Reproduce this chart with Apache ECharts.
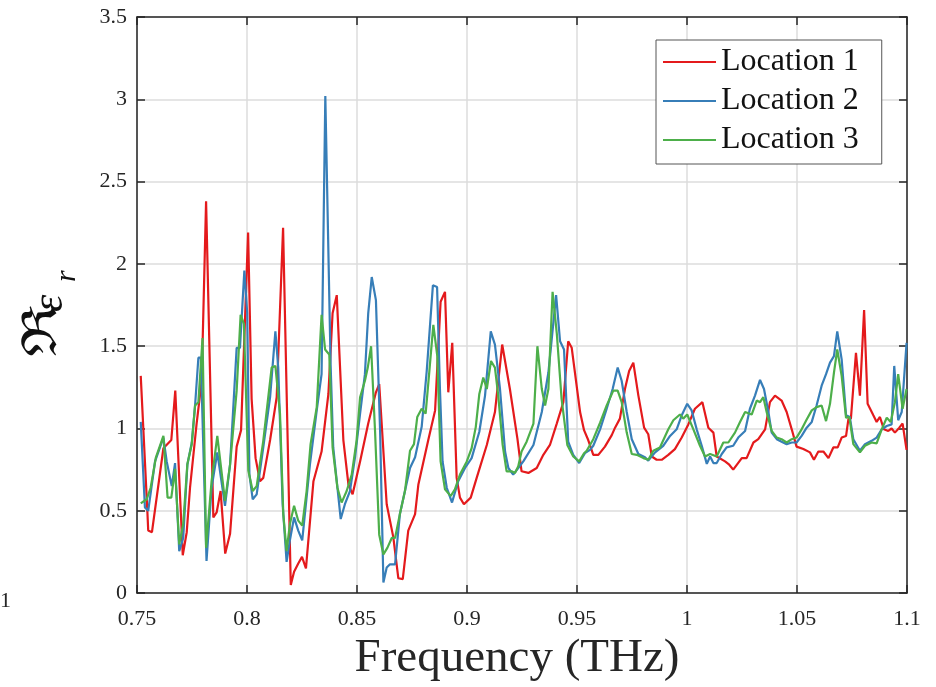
<!DOCTYPE html>
<html>
<head>
<meta charset="utf-8">
<script src="https://cdn.jsdelivr.net/npm/echarts@6/dist/echarts.min.js"></script>
<style>
  html, body { margin: 0; padding: 0; background: #fff; }
  #chart { width: 936px; height: 687px; }
</style>
</head>
<body>
<div id="chart"></div>
<script>
// values
const seriesNames = ['Location 1', 'Location 2', 'Location 3']
const xTicks = [0.75, 0.8, 0.85, 0.9, 0.95, 1, 1.05, 1.1]
const yTicks = [0, 0.5, 1, 1.5, 2, 2.5, 3, 3.5]

const loc1Freq = [0.7517, 0.7547, 0.7551, 0.7568, 0.762, 0.7656, 0.7674, 0.7708, 0.7726, 0.7741, 0.7771, 0.7794, 0.7814, 0.7847, 0.7862, 0.788, 0.7901, 0.7923, 0.7953, 0.7973, 0.8005, 0.8021, 0.8039, 0.8059, 0.8074, 0.8105, 0.8135, 0.8164, 0.8199, 0.8214, 0.8233, 0.825, 0.8268, 0.8302, 0.8339, 0.837, 0.8389, 0.8408, 0.8438, 0.8461, 0.848, 0.8514, 0.8551, 0.8586, 0.8601, 0.8635, 0.8665, 0.8688, 0.8708, 0.8733, 0.8764, 0.8779, 0.8824, 0.8855, 0.888, 0.89, 0.8915, 0.8933, 0.8953, 0.8968, 0.8986, 0.9017, 0.9044, 0.909, 0.9127, 0.916, 0.9195, 0.9229, 0.9248, 0.9279, 0.9317, 0.9347, 0.9377, 0.9408, 0.9438, 0.946, 0.9476, 0.9514, 0.9532, 0.9551, 0.9574, 0.9597, 0.9627, 0.9658, 0.9673, 0.9695, 0.9718, 0.9737, 0.9756, 0.9779, 0.9805, 0.9824, 0.984, 0.9862, 0.9885, 0.9915, 0.9945, 0.9976, 1.0006, 1.0036, 1.007, 1.0097, 1.012, 1.0135, 1.0173, 1.0192, 1.021, 1.0249, 1.0271, 1.0302, 1.0324, 1.0355, 1.0377, 1.04, 1.043, 1.0453, 1.0476, 1.0498, 1.0529, 1.0559, 1.0577, 1.0597, 1.062, 1.0643, 1.0665, 1.0685, 1.0703, 1.0723, 1.0734, 1.0745, 1.0768, 1.0786, 1.0805, 1.0821, 1.0847, 1.0862, 1.0877, 1.0895, 1.0915, 1.093, 1.0945, 1.0965, 1.098, 1.0998]
const loc1Re = [1.32, 0.50, 0.38, 0.37, 0.88, 0.93, 1.23, 0.23, 0.37, 0.64, 1.03, 1.29, 2.38, 0.46, 0.49, 0.62, 0.24, 0.36, 0.89, 0.99, 2.19, 1.18, 0.82, 0.68, 0.70, 0.93, 1.19, 2.22, 0.05, 0.13, 0.18, 0.22, 0.15, 0.68, 0.86, 1.21, 1.70, 1.81, 0.93, 0.66, 0.60, 0.80, 1.03, 1.22, 1.27, 0.54, 0.34, 0.09, 0.085, 0.38, 0.48, 0.66, 0.93, 1.11, 1.77, 1.83, 1.22, 1.52, 0.70, 0.58, 0.54, 0.58, 0.70, 0.90, 1.10, 1.51, 1.24, 0.94, 0.74, 0.73, 0.76, 0.84, 0.90, 1.03, 1.16, 1.53, 1.49, 1.10, 0.99, 0.93, 0.84, 0.84, 0.89, 0.96, 1.005, 1.06, 1.24, 1.35, 1.40, 1.20, 1.005, 0.965, 0.83, 0.81, 0.81, 0.84, 0.875, 0.945, 1.025, 1.12, 1.16, 1.005, 0.975, 0.83, 0.80, 0.78, 0.75, 0.82, 0.82, 0.915, 0.935, 0.995, 1.16, 1.20, 1.17, 1.10, 0.995, 0.89, 0.875, 0.855, 0.81, 0.86, 0.86, 0.82, 0.885, 0.885, 0.945, 0.955, 1.06, 1.06, 1.46, 1.20, 1.72, 1.15, 1.08, 1.04, 1.07, 0.995, 0.985, 1.00, 0.975, 1.005, 1.03, 0.87]

const loc2Freq = [0.7517, 0.7536, 0.7551, 0.7582, 0.762, 0.7635, 0.7658, 0.7673, 0.7692, 0.771, 0.7729, 0.7749, 0.7764, 0.7779, 0.779, 0.7816, 0.7839, 0.7865, 0.79, 0.7923, 0.7953, 0.7968, 0.7988, 0.8001, 0.8011, 0.8026, 0.8044, 0.8074, 0.8105, 0.8129, 0.8142, 0.8162, 0.818, 0.8195, 0.8214, 0.8233, 0.8251, 0.8286, 0.8317, 0.8339, 0.8356, 0.838, 0.8392, 0.8426, 0.8445, 0.8468, 0.8491, 0.8514, 0.8536, 0.8551, 0.8567, 0.8586, 0.8605, 0.862, 0.8635, 0.865, 0.8673, 0.8695, 0.8718, 0.8741, 0.8764, 0.8794, 0.8817, 0.8845, 0.8864, 0.8877, 0.8889, 0.8908, 0.8932, 0.896, 0.8991, 0.9021, 0.9056, 0.9082, 0.9108, 0.9127, 0.915, 0.9173, 0.9188, 0.921, 0.9233, 0.9256, 0.9302, 0.934, 0.937, 0.9405, 0.9423, 0.9441, 0.946, 0.9483, 0.951, 0.9536, 0.9559, 0.9574, 0.9605, 0.9635, 0.9662, 0.9685, 0.9703, 0.9726, 0.9749, 0.9779, 0.9809, 0.9824, 0.9855, 0.9892, 0.9923, 0.9953, 0.9976, 1.0001, 1.0021, 1.0044, 1.0067, 1.009, 1.0105, 1.012, 1.0135, 1.0158, 1.018, 1.021, 1.0233, 1.0264, 1.0286, 1.0309, 1.0332, 1.035, 1.037, 1.0385, 1.0408, 1.043, 1.0453, 1.0476, 1.0498, 1.0521, 1.0544, 1.0567, 1.0589, 1.0612, 1.0632, 1.065, 1.0668, 1.0683, 1.0703, 1.0723, 1.074, 1.0756, 1.0786, 1.0809, 1.0839, 1.0862, 1.0885, 1.0908, 1.093, 1.0942, 1.096, 1.0976, 1.0998]
const loc2Re = [1.04, 0.52, 0.50, 0.80, 0.945, 0.80, 0.65, 0.79, 0.255, 0.335, 0.78, 0.915, 1.14, 1.43, 1.43, 0.195, 0.64, 0.855, 0.53, 0.78, 1.49, 1.49, 1.96, 1.70, 0.72, 0.57, 0.60, 0.885, 1.19, 1.59, 1.37, 0.54, 0.19, 0.32, 0.46, 0.38, 0.32, 0.78, 1.11, 1.33, 3.02, 1.39, 0.885, 0.45, 0.54, 0.62, 0.825, 1.09, 1.33, 1.70, 1.92, 1.78, 0.985, 0.065, 0.155, 0.175, 0.175, 0.48, 0.62, 0.76, 0.825, 1.01, 1.35, 1.87, 1.86, 1.24, 0.80, 0.64, 0.55, 0.68, 0.76, 0.82, 0.98, 1.20, 1.59, 1.51, 1.24, 0.86, 0.76, 0.72, 0.76, 0.80, 0.90, 1.10, 1.34, 1.81, 1.53, 1.48, 0.92, 0.84, 0.79, 0.85, 0.87, 0.895, 0.995, 1.12, 1.24, 1.37, 1.29, 1.10, 0.935, 0.845, 0.825, 0.805, 0.855, 0.895, 0.955, 0.995, 1.08, 1.15, 1.11, 0.995, 0.895, 0.785, 0.83, 0.79, 0.79, 0.845, 0.885, 0.895, 0.945, 0.985, 1.12, 1.20, 1.295, 1.24, 1.10, 0.975, 0.935, 0.92, 0.905, 0.915, 0.915, 0.955, 1.005, 1.04, 1.14, 1.26, 1.33, 1.40, 1.44, 1.59, 1.42, 1.08, 1.07, 0.935, 0.865, 0.905, 0.925, 0.945, 0.995, 1.015, 1.025, 1.38, 1.05, 1.10, 1.52]

const loc3Freq = [0.7517, 0.7544, 0.7562, 0.7586, 0.762, 0.7639, 0.7656, 0.7673, 0.7692, 0.771, 0.7729, 0.7749, 0.7764, 0.7779, 0.7798, 0.7814, 0.7839, 0.7865, 0.79, 0.7923, 0.7953, 0.7971, 0.7986, 0.8006, 0.8026, 0.8044, 0.8074, 0.8112, 0.8129, 0.815, 0.8165, 0.818, 0.8195, 0.8214, 0.8233, 0.8251, 0.8271, 0.8289, 0.8317, 0.8339, 0.8355, 0.8374, 0.8389, 0.8411, 0.843, 0.8453, 0.8476, 0.8498, 0.8514, 0.8536, 0.8549, 0.8564, 0.8582, 0.8601, 0.862, 0.8638, 0.8658, 0.8673, 0.8695, 0.8718, 0.8741, 0.8759, 0.8774, 0.8794, 0.8812, 0.8829, 0.8847, 0.8865, 0.888, 0.89, 0.8926, 0.8945, 0.8968, 0.8999, 0.9021, 0.904, 0.9056, 0.9074, 0.909, 0.9109, 0.9127, 0.9142, 0.9162, 0.918, 0.9203, 0.9218, 0.9233, 0.9248, 0.9271, 0.9302, 0.932, 0.934, 0.9355, 0.937, 0.9389, 0.9408, 0.943, 0.9456, 0.9483, 0.951, 0.9532, 0.9544, 0.9574, 0.9605, 0.9635, 0.9665, 0.9685, 0.9703, 0.9726, 0.9749, 0.9772, 0.9802, 0.9824, 0.9847, 0.9877, 0.9915, 0.9938, 0.9968, 0.9983, 1.0001, 1.0029, 1.0059, 1.0082, 1.0105, 1.0135, 1.0165, 1.0188, 1.0218, 1.0241, 1.0264, 1.0294, 1.0317, 1.0332, 1.0347, 1.0362, 1.0385, 1.0408, 1.043, 1.0453, 1.0476, 1.0498, 1.0521, 1.0544, 1.0567, 1.0589, 1.0612, 1.0632, 1.065, 1.0668, 1.0683, 1.0703, 1.0723, 1.0738, 1.0756, 1.0786, 1.0809, 1.0839, 1.0862, 1.0885, 1.0908, 1.0926, 1.0945, 1.096, 1.098, 1.0998]
const loc3Re = [0.545, 0.57, 0.64, 0.825, 0.955, 0.58, 0.58, 0.755, 0.295, 0.42, 0.785, 0.905, 1.14, 1.16, 1.55, 0.275, 0.68, 0.955, 0.56, 0.78, 1.23, 1.69, 1.635, 0.745, 0.62, 0.65, 0.925, 1.37, 1.38, 1.09, 0.48, 0.255, 0.42, 0.53, 0.44, 0.41, 0.62, 0.905, 1.13, 1.69, 1.48, 1.45, 0.885, 0.64, 0.55, 0.62, 0.72, 0.925, 1.19, 1.29, 1.37, 1.50, 0.985, 0.355, 0.235, 0.275, 0.335, 0.335, 0.48, 0.62, 0.865, 0.905, 1.07, 1.12, 1.09, 1.35, 1.63, 1.44, 0.80, 0.63, 0.59, 0.63, 0.72, 0.80, 0.88, 1.01, 1.21, 1.31, 1.24, 1.41, 1.37, 1.20, 0.90, 0.74, 0.74, 0.73, 0.77, 0.86, 0.92, 1.03, 1.50, 1.24, 1.14, 1.24, 1.83, 1.58, 1.18, 0.90, 0.83, 0.80, 0.85, 0.865, 0.935, 1.035, 1.14, 1.23, 1.23, 1.16, 0.975, 0.845, 0.84, 0.82, 0.81, 0.865, 0.885, 0.995, 1.05, 1.085, 1.06, 1.085, 0.995, 0.895, 0.83, 0.845, 0.83, 0.915, 0.915, 0.975, 1.04, 1.10, 1.085, 1.17, 1.16, 1.19, 1.10, 0.985, 0.945, 0.935, 0.915, 0.935, 0.945, 0.995, 1.055, 1.11, 1.13, 1.14, 1.045, 1.15, 1.34, 1.48, 1.32, 1.065, 1.07, 0.905, 0.855, 0.895, 0.915, 0.91, 0.995, 1.065, 1.04, 1.16, 1.33, 1.12, 1.24]

const colors = ['#e41a1c', '#377eb8', '#4daf4a']
const serif = 'Liberation Serif'
const ink = '#262626'

function pairs(xs, ys) {
  return xs.map((x, i) => [x, ys[i]])
}

function tickText(v) {
  const t = xTicks.concat(yTicks).find(k => Math.abs(k - v) < 1e-6)
  return t === undefined ? '' : String(t)
}

const chart = echarts.init(document.getElementById('chart'))

const axisCommon = {
  axisLine: { show: true, onZero: false, lineStyle: { color: ink, width: 1.5 } },
  axisTick: { show: true, inside: true, length: 8, lineStyle: { color: ink, width: 1.5 } }
}

chart.setOption({
  animation: false,
  color: colors,
  textStyle: { fontFamily: serif },
  grid: { left: 137, right: 29, top: 17, bottom: 87 },
  legend: {
    orient: 'vertical',
    left: 656,
    top: 40,
    data: seriesNames,
    icon: 'rect',
    itemWidth: 53,
    itemHeight: 2,
    itemGap: 7,
    padding: [6, 23, 8, 7],
    backgroundColor: '#fff',
    borderColor: '#555',
    borderWidth: 1,
    textStyle: { fontFamily: serif, fontSize: 32, lineHeight: 32, color: '#111' }
  },
  xAxis: [{
    type: 'value',
    min: 0.75,
    max: 1.1,
    interval: 0.05,
    ...axisCommon,
    axisLabel: { fontSize: 22, color: ink, margin: 15, formatter: tickText },
    splitLine: { show: true, lineStyle: { color: '#dcdcdc', width: 1.5 } },
    name: 'Frequency (THz)',
    nameLocation: 'middle',
    nameGap: 40,
    nameTextStyle: { fontFamily: serif, fontSize: 47, color: ink, padding: [0, 10, 0, 0] }
  }, {
    type: 'value',
    position: 'top',
    min: 0.75,
    max: 1.1,
    interval: 0.05,
    ...axisCommon,
    axisLabel: { show: false },
    splitLine: { show: false }
  }],
  yAxis: [{
    type: 'value',
    min: 0,
    max: 3.5,
    interval: 0.5,
    ...axisCommon,
    axisLabel: { fontSize: 22, color: ink, margin: 10, formatter: tickText },
    splitLine: { show: true, lineStyle: { color: '#dcdcdc', width: 1.5 } }
  }, {
    type: 'value',
    position: 'right',
    min: 0,
    max: 3.5,
    interval: 0.5,
    ...axisCommon,
    axisLabel: { show: false },
    splitLine: { show: false }
  }],
  graphic: [{
    type: 'group',
    x: 48,
    y: 300,
    rotation: Math.PI / 2,
    children: [
      { type: 'text', x: -57, y: 20, scaleX: 1.3, style: { text: 'ℜ', font: '48px "DejaVu Serif"', fill: '#111', verticalAlign: 'bottom' } },
      { type: 'text', x: -12, y: 24, style: { text: 'ε', font: 'italic 44px "Liberation Serif"', fill: '#111', verticalAlign: 'bottom' } },
      { type: 'text', x: 18, y: 34, style: { text: 'r', font: 'italic 30px "Liberation Serif"', fill: '#111', verticalAlign: 'bottom' } }
    ]
  }, {
    type: 'text',
    x: 0,
    y: 590,
    style: { text: '1', font: '22px "Liberation Serif"', fill: ink }
  }],
  series: [
    { name: seriesNames[0], type: 'line', data: pairs(loc1Freq, loc1Re) },
    { name: seriesNames[1], type: 'line', data: pairs(loc2Freq, loc2Re) },
    { name: seriesNames[2], type: 'line', data: pairs(loc3Freq, loc3Re) }
  ].map(s => ({ ...s, showSymbol: false, lineStyle: { width: 2.2 }, emphasis: { disabled: true } }))
})
</script>
</body>
</html>
